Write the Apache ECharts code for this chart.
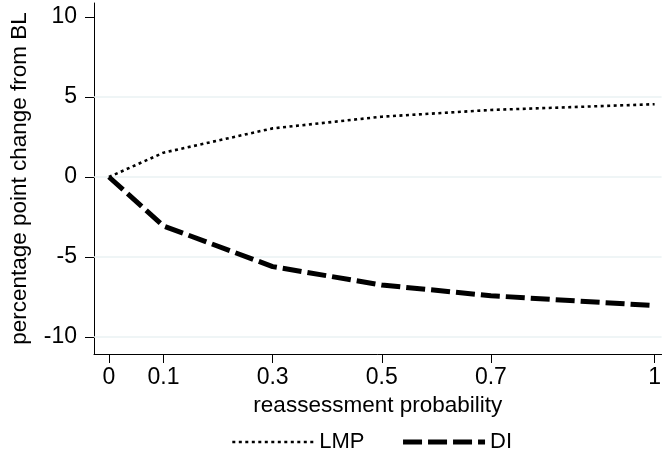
<!DOCTYPE html>
<html>
<head>
<meta charset="utf-8">
<script src="https://cdn.jsdelivr.net/npm/echarts@6/dist/echarts.min.js"></script>
<style>
  html, body { margin: 0; padding: 0; background: #fff; }
  #chart { width: 664px; height: 461px; }
</style>
</head>
<body>
<div id="chart"></div>
<script>
// Reassessment probabilities (x) and effects in percentage points
const probs = [0, 0.1, 0.3, 0.5, 0.7, 1];
const lmp = [0, 1.52, 3.04, 3.77, 4.19, 4.55];
const di = [0, -3.06, -5.6, -6.75, -7.42, -8.04];

const xTicks = [0, 0.1, 0.3, 0.5, 0.7, 1];
const yTicks = [-10, -5, 0, 5, 10];
const gridValues = [-10, -5, 0, 5];

const FONT = '"Liberation Sans", Arial, sans-serif';

const lmpLine = { color: '#000', width: 2.6, type: [3, 3.5], cap: 'butt' };
const diLine = { color: '#000', width: 5, type: [19, 6], cap: 'butt' };

const chart = echarts.init(document.getElementById('chart'), null, { renderer: 'canvas' });

chart.setOption({
  animation: false,
  backgroundColor: '#ffffff',
  textStyle: { fontFamily: FONT, color: '#000' },
  grid: { left: 94, right: 0, top: 3, bottom: 107, containLabel: false },
  xAxis: {
    type: 'value',
    min: -0.0274,
    max: 1.0128,
    name: 'reassessment probability',
    nameLocation: 'middle',
    nameGap: 37,
    nameTextStyle: { fontSize: 22.5, color: '#000', fontFamily: FONT },
    axisLine: { show: true, onZero: false, lineStyle: { color: '#000', width: 1 } },
    axisTick: { show: true, length: 9, customValues: xTicks, lineStyle: { color: '#000' } },
    axisLabel: { customValues: xTicks, fontSize: 23, color: '#000', margin: 12, fontFamily: FONT,
      formatter: v => String(v) },
    splitLine: { show: false }
  },
  yAxis: {
    type: 'value',
    min: -11.0625,
    max: 10.875,
    name: 'percentage point change from BL',
    nameLocation: 'middle',
    nameGap: 63,
    nameTextStyle: { fontSize: 22.5, color: '#000', fontFamily: FONT },
    axisLine: { show: true, onZero: false, lineStyle: { color: '#000', width: 1 } },
    axisTick: { show: true, length: 9, customValues: yTicks, lineStyle: { color: '#000' } },
    axisLabel: { customValues: yTicks, fontSize: 23, color: '#000', margin: 17, fontFamily: FONT },
    splitLine: { show: false }
  },
  legend: {
    bottom: 3,
    left: 226,
    itemWidth: 82,
    itemHeight: 10,
    itemGap: 36,
    itemStyle: { opacity: 0 },
    textStyle: { fontSize: 22, color: '#000', fontFamily: FONT },
    data: [
      { name: 'LMP', lineStyle: lmpLine },
      { name: 'DI', lineStyle: diLine }
    ]
  },
  series: [
    {
      name: 'LMP',
      type: 'line',
      data: probs.map((p, i) => [p, lmp[i]]),
      symbol: 'none',
      z: 3,
      lineStyle: lmpLine,
      itemStyle: { color: '#000' },
      markLine: {
        silent: true,
        symbol: 'none',
        label: { show: false },
        lineStyle: { color: '#eaf2f3', width: 1.5, type: 'solid' },
        z: 1,
        data: gridValues.map(v => ({ yAxis: v }))
      }
    },
    {
      name: 'DI',
      type: 'line',
      data: probs.map((p, i) => [p, di[i]]),
      symbol: 'none',
      z: 3,
      lineStyle: diLine,
      itemStyle: { color: '#000' }
    }
  ]
});
</script>
</body>
</html>
